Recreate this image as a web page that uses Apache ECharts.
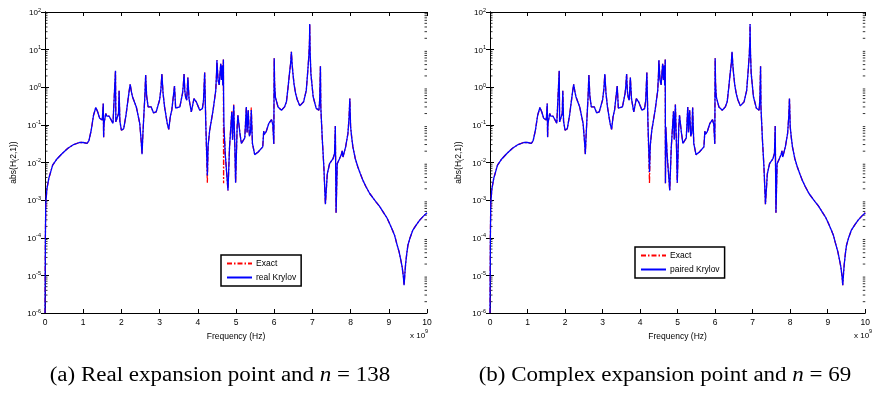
<!DOCTYPE html>
<html>
<head>
<meta charset="utf-8">
<script src="https://cdn.jsdelivr.net/npm/echarts@6/dist/echarts.min.js"></script>
<style>
html,body{margin:0;padding:0;background:#fff;}
#c{width:873px;height:400px;}
</style>
</head>
<body>
<div id="c"></div>
<script>
// Exact |H(2,1)| : [frequency (x 1e9 Hz), magnitude]
const exactResponse = [
  [0,1e-6],[0.005,1e-5],[0.01,1e-4],[0.02,7.9e-4],[0.05,2.0e-3],[0.1,3.8e-3],[0.2,8.5e-3],[0.3,1.2e-2],[0.45,1.74e-2],[0.6,2.4e-2],
  [0.75,3.0e-2],[0.9,3.4e-2],[1.0,3.4e-2],[1.1,3.2e-2],[1.15,3.8e-2],[1.21,7.2e-2],[1.27,0.18],[1.33,0.29],[1.38,0.22],[1.43,0.15],
  [1.50,0.135],[1.525,0.37],[1.535,0.047],[1.545,0.11],[1.57,0.15],[1.59,0.20],[1.62,0.17],[1.68,0.17],[1.78,0.11],[1.83,0.12],
  [1.845,2.75],[1.855,0.12],[1.89,0.11],[1.925,0.2],[1.94,0.81],[1.96,0.126],[2.0,0.072],[2.06,0.079],[2.12,0.18],[2.17,0.44],
  [2.2,0.75],[2.23,1.2],[2.26,0.78],[2.29,0.56],[2.39,0.30],[2.48,0.11],[2.52,0.035],[2.54,0.0166],[2.56,0.05],[2.59,0.2],
  [2.615,0.6],[2.635,2.1],[2.66,0.6],[2.70,0.3],[2.74,0.275],[2.78,0.3],[2.84,0.21],[2.91,0.22],[3.0,0.46],[3.035,0.9],
  [3.06,2.24],[3.09,0.7],[3.13,0.3],[3.2,0.11],[3.24,0.076],[3.28,0.166],[3.32,0.25],[3.36,0.25],[3.39,1.07],[3.42,0.28],
  [3.47,0.25],[3.53,0.3],[3.6,0.69],[3.62,1.1],[3.64,2.24],[3.66,0.8],[3.68,0.56],[3.71,0.45],[3.74,1.82],[3.77,0.5],
  [3.83,0.22],[3.9,0.5],[3.96,0.41],[4.05,0.245],[4.12,0.27],[4.15,0.45],[4.18,2.45],[4.21,0.1],[4.25,2.8e-3],[4.27,0.028],
  [4.29,0.025],[4.31,0.07],[4.4,0.245],[4.47,0.83],[4.49,2.2],[4.5,5.25],[4.53,1.55],[4.56,1.15],[4.6,4.2],[4.62,1.55],
  [4.64,3.8],[4.655,1.12],[4.67,5.5],[4.675,2.8e-3],[4.685,0.089],[4.72,0.016],[4.79,1.8e-3],[4.83,0.025],[4.89,0.23],[4.91,0.04],
  [4.94,0.35],[4.97,0.025],[4.99,2.9e-3],[5.03,0.089],[5.05,0.18],[5.1,0.063],[5.14,0.032],[5.18,0.032],[5.23,0.045],[5.27,0.3],
  [5.29,0.063],[5.32,0.245],[5.35,0.05],[5.38,0.063],[5.40,0.29],[5.43,0.032],[5.49,0.0162],[5.58,0.019],[5.70,0.026],[5.715,0.024],
  [5.725,0.068],[5.74,0.056],[5.79,0.066],[5.86,0.11],[5.93,0.138],[5.965,0.1],[5.99,0.031],[6.0,5.9],[6.01,1.3],[6.03,0.55],
  [6.1,0.3],[6.19,0.245],[6.27,0.3],[6.32,0.41],[6.36,0.93],[6.4,2.34],[6.43,4.3],[6.45,8.7],[6.47,4.0],[6.49,2.34],
  [6.52,1.2],[6.56,0.69],[6.6,0.48],[6.67,0.32],[6.77,0.41],[6.84,0.83],[6.88,2.8],[6.91,7.5],[6.925,18],[6.93,48],
  [6.94,9],[6.96,2.34],[7.02,0.56],[7.1,0.275],[7.17,0.245],[7.19,0.45],[7.21,3.6],[7.22,0.3],[7.26,0.04],[7.3,7.6e-3],
  [7.34,7.8e-4],[7.39,5e-3],[7.45,9.3e-3],[7.54,0.0126],[7.58,0.0174],[7.60,0.093],[7.62,4.6e-4],[7.65,9.3e-3],[7.71,0.0126],[7.76,0.0166],
  [7.78,0.0204],[7.80,0.014],[7.87,0.026],[7.93,0.059],[7.96,0.16],[7.98,0.5],[8.0,0.089],[8.03,0.045],[8.06,0.026],[8.12,0.013],
  [8.19,7.6e-3],[8.25,5.2e-3],[8.32,3.4e-3],[8.4,2.3e-3],[8.5,1.5e-3],[8.6,1.1e-3],[8.67,8.9e-4],[8.75,7e-4],[8.85,4.9e-4],[8.95,3.4e-4],
  [9.02,2.4e-4],[9.1,1.55e-4],[9.15,1.17e-4],[9.2,7.5e-5],[9.27,4.2e-5],[9.32,2.4e-5],[9.35,1.66e-5],[9.38,9.5e-6],[9.40,5.5e-6],[9.42,1.1e-5],
  [9.44,2.0e-5],[9.47,3.8e-5],[9.5,6.3e-5],[9.55,9.5e-5],[9.63,1.6e-4],[9.72,2.2e-4],[9.81,2.95e-4],[9.9,3.7e-4],[10,4.6e-4]
];
// Where the reduced-order models differ from the exact response: [frequency, magnitude]
const realKrylovDiff = [[4.25, 4.5e-3], [4.675, 0.6], [4.89, 0.22], [4.94, 0.33], [5.40, 0.25]];
const pairedKrylovDiff = [[4.25, 5.6e-3]];
const xTicks = [0, 1, 2, 3, 4, 5, 6, 7, 8, 9, 10];
const decades = [-6, -5, -4, -3, -2, -1, 0, 1];
const minorMultipliers = [2, 3, 4, 5, 6, 7, 8, 9];

function buildSeries(diff) {
  const m = {};
  diff.forEach(d => { m[d[0]] = d[1]; });
  return exactResponse.map(p => [p[0], (p[0] in m) ? m[p[0]] : p[1]]);
}
const exactData = exactResponse.map(p => [p[0], p[1]]);
const realData = buildSeries(realKrylovDiff);
const pairedData = buildSeries(pairedKrylovDiff);
const minorTickData = [];
decades.forEach(d => minorMultipliers.forEach(k => minorTickData.push([0, k * Math.pow(10, d)])));

const FONT = 'Liberation Sans';
const grids = [
  {left: 45, top: 12, width: 382, height: 301},
  {left: 490, top: 12, width: 382, height: 301}
];
const axLine = {show: true, lineStyle: {color: '#000', width: 1}};

const xAxis = [], yAxis = [];
grids.forEach((g, gi) => {
  xAxis.push({
    type: 'value', gridIndex: gi, min: 0, max: 10, interval: 1, position: 'bottom',
    axisLine: axLine, axisTick: {inside: true, length: 4, lineStyle: {color: '#000'}},
    splitLine: {show: false},
    axisLabel: {color: '#000', fontFamily: FONT, fontSize: 8.5, margin: 5,
      formatter: v => xTicks.indexOf(v) >= 0 ? String(v) : ''},
    name: 'Frequency (Hz)', nameLocation: 'middle', nameGap: 11,
    nameTextStyle: {color: '#000', fontFamily: FONT, fontSize: 8.5}
  });
  xAxis.push({
    type: 'value', gridIndex: gi, min: 0, max: 10, interval: 1, position: 'top',
    axisLine: axLine, axisTick: {inside: true, length: 4, lineStyle: {color: '#000'}},
    splitLine: {show: false}, axisLabel: {show: false}
  });
  yAxis.push({
    type: 'log', logBase: 10, gridIndex: gi, min: 1e-6, max: 100, position: 'left',
    axisLine: axLine, axisTick: {inside: true, length: 4, lineStyle: {color: '#000'}},
    minorTick: {show: false}, splitLine: {show: false},
    axisLabel: {
      margin: 4,
      formatter: v => '{b|10}{e|' + Math.round(Math.log10(v)) + '}',
      rich: {
        b: {fontFamily: FONT, fontSize: 8, color: '#000', verticalAlign: 'bottom', lineHeight: 10},
        e: {fontFamily: FONT, fontSize: 5.5, color: '#000', verticalAlign: 'top', padding: [0, 0, 6, 0], lineHeight: 10}
      }
    },
    name: '{n|abs(H}{s|(}{n|2,1))}', nameLocation: 'middle', nameGap: 26, nameRotate: 90,
    nameTextStyle: {
      rich: {
        n: {fontFamily: FONT, fontSize: 8.5, color: '#000'},
        s: {fontFamily: FONT, fontSize: 6.5, color: '#000', padding: [4, 0, 0, 0]}
      }
    }
  });
  yAxis.push({
    type: 'log', logBase: 10, gridIndex: gi, min: 1e-6, max: 100, position: 'right',
    axisLine: axLine, axisTick: {inside: true, length: 4, lineStyle: {color: '#000'}},
    splitLine: {show: false}, axisLabel: {show: false}
  });
});

const exactStyle = {color: '#ff0000', width: 1.3, type: [5, 2, 1.5, 2]};
const blueStyle = {color: '#0000ff', width: 1.3};

function minorTickSeries(xi, yi) {
  return {
    type: 'custom', xAxisIndex: xi, yAxisIndex: yi, data: minorTickData, silent: true, z: 1,
    renderItem: (params, api) => {
      const l = api.coord([0, api.value(1)]);
      const r = api.coord([10, api.value(1)]);
      return {type: 'group', children: [
        {type: 'line', shape: {x1: l[0], y1: l[1], x2: l[0] + 2.5, y2: l[1]}, style: {stroke: '#000', lineWidth: 0.8}},
        {type: 'line', shape: {x1: r[0], y1: r[1], x2: r[0] - 2.5, y2: r[1]}, style: {stroke: '#000', lineWidth: 0.8}}
      ]};
    }
  };
}

const series = [
  minorTickSeries(0, 0),
  minorTickSeries(2, 2),
  {name: 'Exact', type: 'line', xAxisIndex: 0, yAxisIndex: 0, data: exactData, showSymbol: false, symbol: 'none', lineStyle: exactStyle, itemStyle: {color: '#ff0000'}, z: 2},
  {name: 'real Krylov', type: 'line', xAxisIndex: 0, yAxisIndex: 0, data: realData, showSymbol: false, symbol: 'none', lineStyle: blueStyle, itemStyle: {color: '#0000ff'}, z: 3},
  {name: 'Exact', type: 'line', xAxisIndex: 2, yAxisIndex: 2, data: exactData, showSymbol: false, symbol: 'none', lineStyle: exactStyle, itemStyle: {color: '#ff0000'}, z: 2},
  {name: 'paired Krylov', type: 'line', xAxisIndex: 2, yAxisIndex: 2, data: pairedData, showSymbol: false, symbol: 'none', lineStyle: blueStyle, itemStyle: {color: '#0000ff'}, z: 3}
];

const legendBase = {
  orient: 'vertical', itemWidth: 25, itemHeight: 8, itemGap: 5,
  padding: [4, 5, 4, 5], borderColor: '#000', borderWidth: 1.5, backgroundColor: '#fff',
  textStyle: {fontFamily: FONT, fontSize: 8.5, color: '#000', padding: [0, 0, 0, -1]},
  itemStyle: {opacity: 0},
  selectedMode: false
};

const supRich = {
  a: {fontFamily: FONT, fontSize: 8, fill: '#000', verticalAlign: 'bottom'},
  e: {fontFamily: FONT, fontSize: 5.5, fill: '#000', verticalAlign: 'top', padding: [0, 0, 6, 0]}
};

const option = {
  animation: false,
  backgroundColor: '#fff',
  grid: grids,
  xAxis: xAxis,
  yAxis: yAxis,
  series: series,
  legend: [
    Object.assign({}, legendBase, {left: 221, top: 255, data: ['Exact', 'real Krylov']}),
    Object.assign({}, legendBase, {left: 635, top: 247, data: ['Exact', 'paired Krylov']})
  ],
  graphic: [
    {type: 'text', left: 410, top: 328, style: {text: '{a|x 10}{e|9}', rich: supRich}},
    {type: 'text', left: 854, top: 328, style: {text: '{a|x 10}{e|9}', rich: supRich}},
    {type: 'text', x: 220, y: 376, scaleX: 1.15, style: {text: '(a) Real expansion point and {i|n} = 138', align: 'center', verticalAlign: 'middle',
      fontFamily: 'Liberation Serif', fontSize: 20, fill: '#000',
      rich: {i: {fontFamily: 'Liberation Serif', fontStyle: 'italic', fontSize: 20, fill: '#000'}}}},
    {type: 'text', x: 665, y: 376, scaleX: 1.15, style: {text: '(b) Complex expansion point and {i|n} = 69', align: 'center', verticalAlign: 'middle',
      fontFamily: 'Liberation Serif', fontSize: 20, fill: '#000',
      rich: {i: {fontFamily: 'Liberation Serif', fontStyle: 'italic', fontSize: 20, fill: '#000'}}}}
  ]
};

const chart = echarts.init(document.getElementById('c'), null, {renderer: 'canvas'});
chart.setOption(option);
</script>
</body>
</html>
